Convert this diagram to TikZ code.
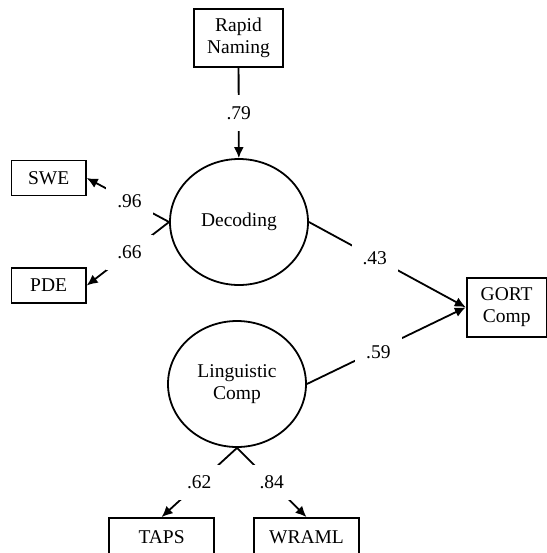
\documentclass[tikz,border=0pt]{standalone}
\usepackage{fontspec}
\setmainfont{Liberation Serif}
\usetikzlibrary{arrows.meta}
\usetikzlibrary{shapes.geometric}

\begin{document}
\begin{tikzpicture}[x=0.5pt,y=-0.5pt,line width=0.9pt,
	font=\fontsize{9.75}{11}\selectfont,
	>={Latex[length=5.5pt,width=5pt]},
	obs/.style={draw,rectangle,align=center,inner sep=0pt},
	lat/.style={draw,ellipse,align=center,inner sep=0pt,minimum width=69pt,minimum height=63pt},
	coef/.style={fill=white,inner sep=5.5pt}]
	\useasboundingbox (0,0) rectangle (547,553);
	% measured variables
	\node[obs,minimum width=44.3pt,minimum height=29pt] (rapid) at (238.5,38) {Rapid\\Naming};
	\node[obs,minimum width=37.2pt,minimum height=17.5pt] (swe) at (48.6,178) {SWE};
	\node[obs,minimum width=37.2pt,minimum height=17.5pt] (pde) at (48.6,285.5) {PDE};
	\node[obs,minimum width=40pt,minimum height=29.3pt] (gort) at (506.7,307.3) {GORT\\Comp};
	\node[obs,minimum width=52.3pt,minimum height=19pt] (taps) at (161.6,537) {TAPS};
	\node[obs,minimum width=52.5pt,minimum height=19pt] (wraml) at (306.5,537) {WRAML};
	% latent variables
	\node[lat] (dec) at (239,222) {Decoding};
	\node[lat] (ling) at (237,384) {Linguistic\\Comp};
	% paths
	\draw[->] (rapid) -- node[coef] {.79} (dec);
	\draw[->] (dec.west) -- node[coef,pos=0.48] {.96} (swe.east);
	\draw[->] (dec.west) -- node[coef,pos=0.48] {.66} (pde.east);
	\draw[->] (dec.east) -- node[coef,pos=0.42] {.43} (gort.west);
	\draw[->] (ling.east) -- node[coef,pos=0.45,yshift=-1.5pt] {.59} (gort.west);
	\draw[->] (ling.south) -- node[coef] {.62} (taps.north);
	\draw[->] (ling.south) -- node[coef] {.84} (wraml.north);
\end{tikzpicture}
\end{document}
